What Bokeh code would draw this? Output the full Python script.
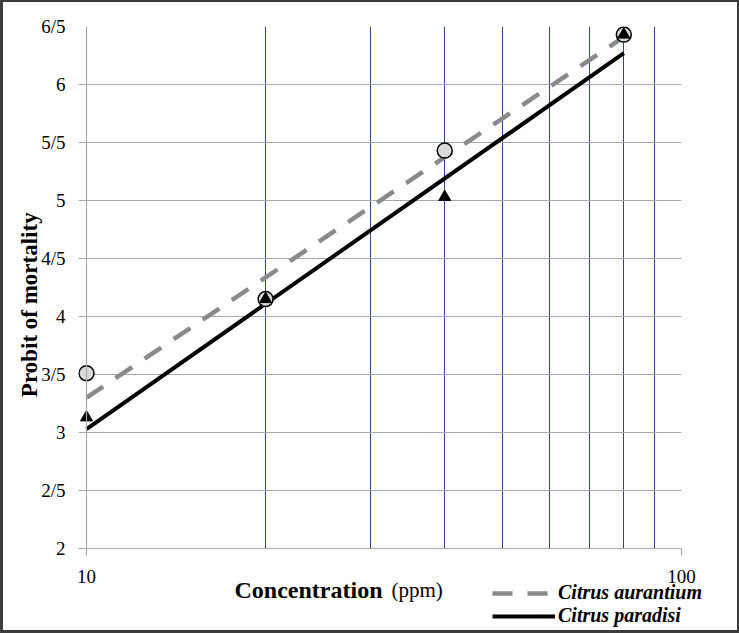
import math
from bokeh.plotting import figure
from bokeh.layouts import column, row
from bokeh.models import FixedTicker, Label, Legend, LegendItem, Span, Spacer
from bokeh.embed import file_html
from bokeh.resources import INLINE

# ---- data ----
conc = [10, 20, 40, 80]
aurantium_probit = [3.51, 4.15, 5.43, 6.43]
paradisi_probit = [3.13, 4.15, 5.03, 6.43]
fit_conc = [10, 80]
aurantium_fit = [3.30, 6.41]
paradisi_fit = [3.03, 6.27]
y_ticks = [2, 2.5, 3, 3.5, 4, 4.5, 5, 5.5, 6, 6.5]
y_tick_labels = ["2", "2/5", "3", "3/5", "4", "4/5", "5", "5/5", "6", "6/5"]
x_ticks = [10, 100]
x_tick_labels = ["10", "100"]
x_grid = [20, 30, 40, 50, 60, 70, 80, 90]
series_names = ["Citrus aurantium", "Citrus paradisi"]
x_title = "Concentration"
x_unit = "(ppm)"
y_title = "Probit of mortality"

FONT = "Liberation Serif"
GRID_GRAY = "#a8a8a8"
DASH_GRAY = "#8a8a8a"
FRAME_COLOR = "#3c3c3c"

# outer picture frame (bars around the whole chart)
TOTAL_W, TOTAL_H = 739, 633
BL, BT, BR, BB = 3, 2, 2, 3
W = TOTAL_W - BL - BR          # inner width
H_INNER = TOTAL_H - BT - BB
H_MAIN = 560 - BT
H_STRIP = H_INNER - H_MAIN

AXIS_X = 86          # picture pixel of x = 10
DECADE = 595         # pixels per decade
PAD_LEFT = 8         # frame starts 8px left of x = 10 so markers are not clipped
FRAME_LEFT = AXIS_X - PAD_LEFT - BL
FRAME_RIGHT = AXIS_X + DECADE - BL

x_start = 10 ** (1 - PAD_LEFT / DECADE)

p = figure(width=W, height=H_MAIN, x_axis_type="log", x_range=(x_start, 100), y_range=(2, 6.5),
           output_backend="svg", toolbar_location=None,
           min_border_left=FRAME_LEFT, min_border_right=W - FRAME_RIGHT,
           min_border_top=26 - BT, min_border_bottom=H_MAIN - (548 - BT))
p.frame_align = False
p.outline_line_color = None
p.background_fill_color = "white"
p.border_fill_color = "white"

# grids
p.ygrid.ticker = FixedTicker(ticks=y_ticks)
p.ygrid.grid_line_color = GRID_GRAY
p.ygrid.grid_line_width = 1.2
p.xgrid.ticker = FixedTicker(ticks=x_grid)
p.xgrid.grid_line_color = "#34448a"
p.xgrid.grid_line_width = 1

# vertical axis line at x = 10
p.add_layout(Span(location=10, dimension="height", line_color=GRID_GRAY, line_width=1.2))

# axes
p.yaxis.ticker = FixedTicker(ticks=y_ticks)
p.yaxis.major_label_overrides = {t: l for t, l in zip(y_ticks, y_tick_labels)}
p.xaxis.ticker = FixedTicker(ticks=x_ticks)
for ax in (p.xaxis, p.yaxis):
    ax.axis_line_color = GRID_GRAY
    ax.axis_line_width = 1.2
    ax.major_tick_line_color = GRID_GRAY
    ax.major_tick_line_width = 1.2
    ax.major_tick_in = 0
    ax.minor_tick_line_color = None
    ax.major_label_text_font = FONT
    ax.major_label_text_font_size = "19px"
    ax.major_label_text_color = "black"
p.yaxis.axis_line_color = None
p.yaxis.major_tick_out = 0
p.yaxis.major_label_standoff = 13
p.yaxis.axis_label = y_title + "\u00a0" * 6
p.yaxis.axis_label_text_font = FONT
p.yaxis.axis_label_text_font_size = "23px"
p.yaxis.axis_label_text_font_style = "bold"
p.yaxis.axis_label_text_color = "black"
p.yaxis.axis_label_standoff = -4
p.xaxis.major_tick_out = 7
p.xaxis.major_label_standoff = 0
p.xaxis.major_label_text_font_size = "1px"   # tick labels are drawn in the strip below
p.xaxis.major_label_text_alpha = 0

# regression lines
p.line(fit_conc, aurantium_fit, line_color=DASH_GRAY, line_width=4.5, line_dash="20 15")
p.line(fit_conc, paradisi_fit, line_color="black", line_width=4)

# points
p.scatter(conc, aurantium_probit, marker="circle", size=15, fill_color="#d9d9d9",
          line_color="black", line_width=1.5)
p.scatter(conc, paradisi_probit, marker="triangle", size=12, fill_color="black",
          line_color="black")

# ---- bottom strip: x tick labels, x title and legend (same log scale, full-width frame) ----
s_start = 10 ** (1 - (AXIS_X - BL) / DECADE)
s_end = 10 ** (2 + (W - FRAME_RIGHT) / DECADE)
s = figure(width=W, height=H_STRIP, x_axis_type="log", x_range=(s_start, s_end), y_range=(0, 1),
           output_backend="svg", toolbar_location=None, x_axis_location=None,
           y_axis_location=None, min_border=0)
s.frame_align = False
s.grid.visible = False
s.outline_line_color = None
s.background_fill_color = "white"
s.border_fill_color = "white"

BOTTOM = TOTAL_H - BB   # picture y of strip bottom
LIFT = 7                # correction for where the alphabetic baseline lands
for xt, lab in zip(x_ticks, x_tick_labels):
    s.add_layout(Label(x=xt, y=BOTTOM - 583 + LIFT, x_units="data", y_units="screen", text=lab,
                       text_font=FONT, text_font_size="19px", text_align="center",
                       text_baseline="alphabetic", text_color="black"))
s.add_layout(Label(x=234 - BL, y=BOTTOM - 596 + LIFT, x_units="screen", y_units="screen",
                   text=x_title, text_font=FONT, text_font_size="24px", text_font_style="bold",
                   text_baseline="alphabetic", text_align="left", text_color="black"))
s.add_layout(Label(x=391 - BL, y=BOTTOM - 596 + LIFT, x_units="screen", y_units="screen",
                   text=x_unit, text_font=FONT, text_font_size="21px", text_font_style="normal",
                   text_baseline="alphabetic", text_align="left", text_color="black"))

# legend proxies (same styles as the chart lines; their data lie outside the strip's view)
la = s.line(fit_conc, aurantium_fit, line_color=DASH_GRAY, line_width=4.5, line_dash="20 15")
lp = s.line(fit_conc, paradisi_fit, line_color="black", line_width=4)
legend = Legend(items=[LegendItem(label=series_names[0], renderers=[la]),
                       LegendItem(label=series_names[1], renderers=[lp])],
                location=(492 - BL, BOTTOM - 627), orientation="vertical")
legend.label_text_font = FONT
legend.label_text_font_size = "20px"
legend.label_text_font_style = "bold italic"
legend.label_text_color = "black"
legend.glyph_width = 63
legend.glyph_height = 20
legend.label_height = 20
legend.label_standoff = 3
legend.spacing = 0
legend.padding = 0
legend.margin = 0
legend.border_line_color = None
legend.background_fill_alpha = 0
s.add_layout(legend, "center")

bar = {"background-color": FRAME_COLOR}
layout = column(
    Spacer(width=TOTAL_W, height=BT, styles=bar),
    row(Spacer(width=BL, height=H_INNER, styles=bar),
        column(p, s, spacing=0),
        Spacer(width=BR, height=H_INNER, styles=bar), spacing=0),
    Spacer(width=TOTAL_W, height=BB, styles=bar),
    spacing=0)

open("out.html", "w").write(file_html(layout, INLINE))
